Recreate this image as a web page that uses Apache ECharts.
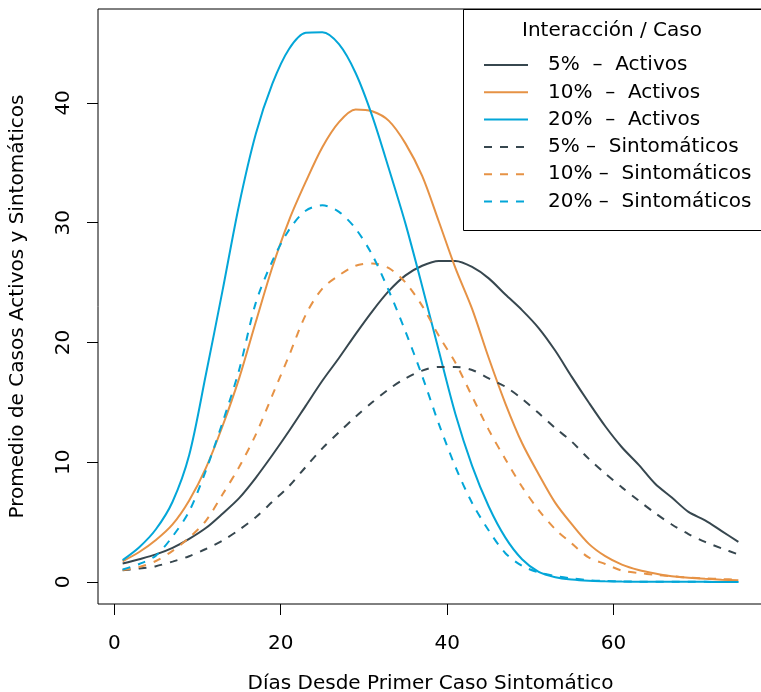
<!DOCTYPE html>
<html>
<head>
<meta charset="utf-8">
<script src="https://cdn.jsdelivr.net/npm/echarts@6/dist/echarts.min.js"></script>
<style>
  html, body { margin: 0; padding: 0; background: #fff; }
  #chart { width: 761px; height: 692px; }
</style>
</head>
<body>
<div id="chart"></div>
<script>
// dias desde el primer caso sintomatico (cada 2 dias)
var days = [1, 3, 5, 7, 9, 11, 13, 15, 17, 19, 21, 23, 25, 27, 29, 31, 33, 35, 37,
            39, 41, 43, 45, 47, 49, 51, 53, 55, 57, 59, 61, 63, 65, 67, 69, 71, 73, 75];

// promedio de casos activos
var act5  = [1.54, 1.9, 2.3, 2.85, 3.6, 4.5, 5.7, 7.0, 8.7, 10.6, 12.6, 14.7, 16.8, 18.7, 20.7, 22.6, 24.3, 25.6, 26.4,
             26.8, 26.8, 26.3, 25.35, 24.0, 22.7, 21.2, 19.3, 17.1, 15.0, 13.0, 11.25, 9.8, 8.2, 7.05, 5.85, 5.15, 4.25, 3.35];
var act10 = [1.73, 2.5, 3.5, 4.8, 6.8, 9.5, 13.0, 17.0, 21.7, 26.3, 30.2, 33.4, 36.3, 38.4, 39.45, 39.3, 38.5, 36.6, 33.9,
             30.1, 26.2, 22.8, 18.7, 14.9, 11.6, 9.0, 6.6, 4.8, 3.2, 2.15, 1.45, 1.0, 0.7, 0.47, 0.35, 0.26, 0.19, 0.14];
var act20 = [1.82, 2.9, 4.4, 6.7, 10.6, 17.3, 24.3, 31.5, 37.4, 41.6, 44.5, 45.85, 45.9, 44.9, 42.5, 38.9, 34.5, 29.9, 24.7,
             19.3, 14.0, 9.7, 6.3, 3.7, 1.9, 0.85, 0.4, 0.2, 0.1, 0.06, 0.03, 0.02, 0.02, 0.01, 0.01, 0.01, 0.0, 0.0];

// promedio de casos sintomaticos
var sin5  = [0.98, 1.12, 1.32, 1.7, 2.15, 2.75, 3.45, 4.35, 5.4, 6.7, 8.0, 9.6, 11.15, 12.5, 13.8, 15.0, 16.1, 17.0, 17.65,
             17.95, 17.95, 17.7, 17.0, 16.3, 15.3, 14.1, 12.85, 11.7, 10.3, 9.05, 7.9, 6.8, 5.75, 4.8, 4.0, 3.35, 2.8, 2.3];
var sin10 = [1.0, 1.25, 1.75, 2.6, 3.7, 5.1, 7.3, 9.6, 12.3, 15.6, 18.9, 22.3, 24.5, 25.6, 26.4, 26.6, 26.2, 25.0, 23.05,
             20.55, 18.3, 15.5, 12.7, 10.25, 7.95, 6.0, 4.4, 3.2, 2.05, 1.5, 0.95, 0.75, 0.6, 0.48, 0.37, 0.3, 0.24, 0.2];
var sin20 = [1.04, 1.5, 2.2, 3.8, 5.9, 9.3, 13.3, 17.7, 23.3, 26.8, 29.4, 31.0, 31.45, 30.9, 29.5, 27.3, 24.3, 20.9, 17.2,
             13.2, 9.6, 6.6, 4.3, 2.4, 1.35, 0.8, 0.5, 0.3, 0.15, 0.08, 0.05, 0.02, 0.02, 0.01, 0.01, 0.01, 0.0, 0.0];

var xTicks = [0, 20, 40, 60];
var yTicks = [0, 10, 20, 30, 40];

var names = ['5%  \u2013  Activos', '10%  \u2013  Activos', '20%  \u2013  Activos',
             '5% \u2013  Sintom\u00e1ticos', '10% \u2013  Sintom\u00e1ticos', '20% \u2013  Sintom\u00e1ticos'];
var values = [act5, act10, act20, sin5, sin10, sin20];
var colors = ['#37474F', '#E69245', '#03A6D8', '#37474F', '#E69245', '#03A6D8'];

var font = 'DejaVu Sans';

function pairs(arr) {
  return days.map(function (d, i) { return [d, arr[i]]; });
}

var series = values.map(function (v, i) {
  return {
    name: names[i],
    type: 'line',
    data: pairs(v),
    smooth: 0.3,
    showSymbol: false,
    symbol: 'circle',
    lineStyle: {
      color: colors[i],
      width: 2,
      type: i < 3 ? 'solid' : [8, 8]
    },
    itemStyle: { color: colors[i] }
  };
});

var chart = echarts.init(document.getElementById('chart'), null, { renderer: 'canvas' });

var option = {
  animation: false,
  backgroundColor: '#fff',
  textStyle: { fontFamily: font },
  grid: {
    left: 98,
    top: 9,
    right: -2,
    bottom: 88,
    show: true,
    borderColor: '#000',
    borderWidth: 1,
    containLabel: false,
    outerBoundsMode: 'none'
  },
  xAxis: {
    type: 'value',
    min: -1.96,
    max: 77.96,
    name: 'D\u00edas Desde Primer Caso Sintom\u00e1tico',
    nameLocation: 'middle',
    nameGap: 70,
    nameTextStyle: { fontFamily: font, fontSize: 20, color: '#000' },
    axisLine: { show: false, onZero: false },
    splitLine: { show: false },
    axisTick: { show: true, length: 11, customValues: xTicks, lineStyle: { color: '#000' } },
    axisLabel: { customValues: xTicks, margin: 30, fontFamily: font, fontSize: 20, color: '#000' }
  },
  yAxis: {
    type: 'value',
    min: -1.84,
    max: 47.84,
    name: 'Promedio de Casos Activos y Sintom\u00e1ticos',
    nameLocation: 'middle',
    nameGap: 70,
    nameTextStyle: { fontFamily: font, fontSize: 20, color: '#000' },
    axisLine: { show: false, onZero: false },
    splitLine: { show: false },
    axisTick: { show: true, length: 11, customValues: yTicks, lineStyle: { color: '#000' } },
    axisLabel: { customValues: yTicks, rotate: 90, margin: 24, fontFamily: font, fontSize: 20, color: '#000' }
  },
  legend: {
    orient: 'vertical',
    left: 483,
    top: 55,
    padding: 0,
    itemWidth: 44,
    itemHeight: 1,
    itemGap: 7.3,
    data: names,
    itemStyle: { opacity: 0 },
    textStyle: { fontFamily: font, fontSize: 20, lineHeight: 20, color: '#000', padding: [0, 0, 0, 15] }
  },
  graphic: [
    {
      type: 'rect',
      shape: { x: 463.5, y: 9.5, width: 300, height: 221 },
      style: { fill: null, stroke: '#000', lineWidth: 1 },
      z: 100
    },
    {
      type: 'text',
      x: 612,
      y: 31,
      style: {
        text: 'Interacci\u00f3n / Caso',
        fontFamily: font,
        fontSize: 20,
        fill: '#000',
        textAlign: 'center',
        textVerticalAlign: 'middle'
      },
      z: 100
    }
  ],
  series: series
};

chart.setOption(option);
</script>
</body>
</html>
